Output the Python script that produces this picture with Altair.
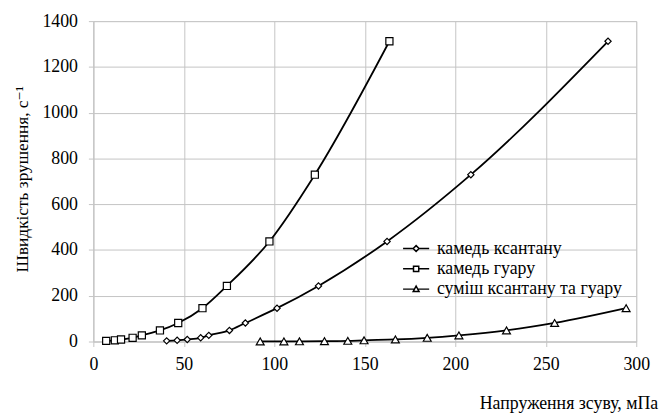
import altair as alt
import pandas as pd

# Shear rate values (s^-1)
shear_rate = [3.0, 5.4, 9.0, 16.2, 27.0, 48.6, 81.0, 145.8, 243.0, 437.4, 729.0, 1312.0]
mix_rate = [0.33, 0.6, 1.0, 1.8, 3.0, 5.4, 9.0, 16.2, 27.0, 48.6, 81.0, 145.8]

# Shear stress values (mPa)
xanthan_stress = [40.5, 46.3, 51.9, 59.3, 63.8, 75.2, 84.0, 101.5, 124.4, 162.3, 208.6, 284.4]
guar_stress = [7.1, 11.9, 15.3, 21.7, 26.8, 36.8, 46.9, 60.3, 73.8, 97.3, 122.4, 163.6]
mix_stress = [92.2, 105.3, 113.9, 127.7, 140.6, 149.6, 166.9, 184.5, 202.0, 228.3, 254.9, 294.4]

names = ["камедь ксантану", "камедь гуару", "суміш ксантану та гуару"]
x_ticks = [0, 50, 100, 150, 200, 250, 300]
y_ticks = [0, 200, 400, 600, 800, 1000, 1200, 1400]

rows = []
for n, xs, ys in zip(names, [xanthan_stress, guar_stress, mix_stress],
                     [shear_rate, shear_rate, mix_rate]):
    for xv, yv in zip(xs, ys):
        rows.append({"series": n, "stress": xv, "rate": yv})
df = pd.DataFrame(rows)

FONT = "Liberation Serif, DejaVu Serif, Noto Serif, serif"
GRID = "#c4c4c4"

x_enc = alt.X(
    "stress:Q",
    scale=alt.Scale(domain=[0, 300], nice=False),
    axis=alt.Axis(
        values=x_ticks, format="d", title="Напруження зсуву, мПа",
        titleX=570.7, titleY=67.5, titleAlign="right", titleBaseline="alphabetic",
        titleFont=FONT, titleFontSize=18, titleFontWeight="normal", titleColor="black",
        labelFont=FONT, labelFontSize=18, labelColor="black", labelPadding=9,
        tickSize=5, tickColor=GRID, domainColor=GRID, gridColor=GRID,
        labelFlush=False,
    ),
)
y_enc = alt.Y(
    "rate:Q",
    scale=alt.Scale(domain=[0, 1400], nice=False),
    axis=alt.Axis(
        values=y_ticks, format="d", title="Швидкість зрушення, с⁻¹",
        titleX=-72, titleY=159.5, titleAngle=270, titleAlign="center",
        titleBaseline="middle",
        titleFont=FONT, titleFontSize=17.5, titleFontWeight="normal", titleColor="black",
        labelFont=FONT, labelFontSize=18, labelColor="black", labelPadding=11,
        tickSize=5, tickColor=GRID, domainColor=GRID, gridColor=GRID,
        labelFlush=False,
    ),
)

base = alt.Chart(df)

lines = base.mark_line(color="black", strokeWidth=1.8, interpolate="monotone").encode(
    x=x_enc, y=y_enc, detail="series:N"
)

points = base.mark_point(filled=True, fill="white", stroke="black", strokeWidth=1.2,
                         opacity=1).encode(
    x="stress:Q", y="rate:Q",
    shape=alt.Shape("series:N",
                    scale=alt.Scale(domain=names, range=["diamond", "square", "triangle-up"]),
                    legend=None),
    size=alt.Size("series:N",
                  scale=alt.Scale(domain=names, range=[40, 64, 50]),
                  legend=None),
)

legend_paths = [
    "M-1.6,0H-0.36M0.36,0H1.6M0,-0.36L0.36,0L0,0.36L-0.36,0Z",
    "M-1.6,0H-0.32M0.32,0H1.6M-0.32,-0.32H0.32V0.32H-0.32Z",
    "M-1.6,0H-0.22M0.22,0H1.6M0,-0.38L0.36,0.3H-0.36Z",
]

legend_layer = base.transform_filter("false").mark_point(
    filled=False, color="black", stroke="black", strokeWidth=1.5, opacity=1
).encode(
    x="stress:Q", y="rate:Q",
    shape=alt.Shape(
        "series:N",
        scale=alt.Scale(domain=names, range=legend_paths),
        legend=alt.Legend(
            title=None, orient="none", legendX=317.4, legendY=221, padding=0,
            symbolSize=272, symbolStrokeWidth=1.5,
            symbolStrokeColor="black", symbolOpacity=1,
            labelFont=FONT, labelFontSize=18, labelColor="black", labelOffset=12,
            rowPadding=2.5, labelLimit=400,
        ),
    ),
)

chart = alt.layer(lines, points, legend_layer).resolve_scale(
    shape="independent"
).properties(
    width=549, height=324,
    autosize=alt.AutoSizeParams(type="none"),
    padding={"left": 86.3, "top": 11, "right": 23, "bottom": 71},
).configure_view(strokeWidth=0).configure(background="white", font=FONT)

chart.save("out.html", embed_options={"renderer": "svg", "actions": False})
